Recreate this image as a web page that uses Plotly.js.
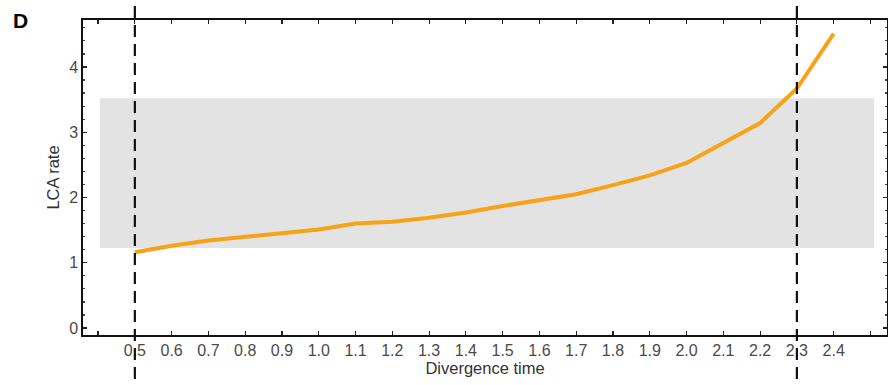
<!DOCTYPE html>
<html>
<head>
<meta charset="utf-8">
<script src="https://cdn.plot.ly/plotly-3.0.1.min.js"></script>
<style>html,body{margin:0;padding:0;background:#fff;}#chart{width:888px;height:385px;}</style>
</head>
<body>
<div id="chart"></div>
<script>
const divergenceTime = [0.5,0.6,0.7,0.8,0.9,1.0,1.1,1.2,1.3,1.4,1.5,1.6,1.7,1.8,1.9,2.0,2.1,2.2,2.3,2.4];
const lcaRate = [1.16,1.26,1.34,1.40,1.45,1.51,1.60,1.63,1.69,1.77,1.87,1.96,2.05,2.19,2.34,2.53,2.83,3.14,3.67,4.51];
const bandX = [0.405, 2.51];
const bandY = [1.225, 3.52];
const markerLines = [0.5, 2.3];
const xTickVals = [0.4,0.5,0.6,0.7,0.8,0.9,1.0,1.1,1.2,1.3,1.4,1.5,1.6,1.7,1.8,1.9,2.0,2.1,2.2,2.3,2.4,2.5];
const xTickText = ['','0.5','0.6','0.7','0.8','0.9','1.0','1.1','1.2','1.3','1.4','1.5','1.6','1.7','1.8','1.9','2.0','2.1','2.2','2.3','2.4',''];
const yTickVals = [0,1,2,3,4];
const yTickText = ['0','1','2','3','4'];

const shapes = [{
  type:'rect', xref:'x', yref:'y', layer:'below',
  x0:bandX[0], x1:bandX[1], y0:bandY[0], y1:bandY[1],
  fillcolor:'#e3e3e3', line:{width:0}
}];
markerLines.forEach(v => shapes.push({
  type:'line', xref:'x', yref:'paper', layer:'above',
  x0:v, x1:v, y0:-0.2, y1:1.1,
  line:{color:'#111', width:2.2, dash:'12px,7px'}
}));

const fam = 'Liberation Sans, Arial, sans-serif';
const tickFont = {family:fam, size:16, color:'#4a4a4a'};
const layout = {
  width:888, height:385,
  margin:{l:83, r:1, t:20, b:50},
  paper_bgcolor:'#fff', plot_bgcolor:'#fff',
  showlegend:false,
  xaxis:{
    range:[0.359, 2.545], tickmode:'array', tickvals:xTickVals, ticktext:xTickText,
    ticks:'inside', ticklen:4, tickwidth:1.2, tickcolor:'#222',
    showline:true, linecolor:'#111', linewidth:1.6, mirror:'allticks',
    showgrid:false, zeroline:false, tickfont:tickFont,
    title:{text:'Divergence time', font:{family:fam, size:16.5, color:'#333'}, standoff:4}
  },
  yaxis:{
    range:[-0.107, 4.72], tickmode:'array', tickvals:yTickVals, ticktext:yTickText,
    ticks:'inside', ticklen:4, tickwidth:1.2, tickcolor:'#222',
    minor:{dtick:0.2, ticklen:2, tickcolor:'#444', ticks:'inside'},
    showline:true, linecolor:'#111', linewidth:1.6, mirror:'allticks',
    showgrid:false, zeroline:false, tickfont:tickFont,
    title:{text:'LCA rate', font:{family:fam, size:16.5, color:'#333'}, standoff:5}
  },
  shapes:shapes,
  annotations:[{
    text:'<b>D</b>', xref:'paper', yref:'paper', x:-0.089, y:1.0,
    xanchor:'left', yanchor:'middle', showarrow:false,
    font:{family:fam, size:21, color:'#000'}
  }]
};

Plotly.newPlot('chart', [{
  x:divergenceTime, y:lcaRate, type:'scatter', mode:'lines',
  line:{color:'#f6a317', width:4}, hoverinfo:'skip'
}], layout, {displayModeBar:false, staticPlot:true});
</script>
</body>
</html>
